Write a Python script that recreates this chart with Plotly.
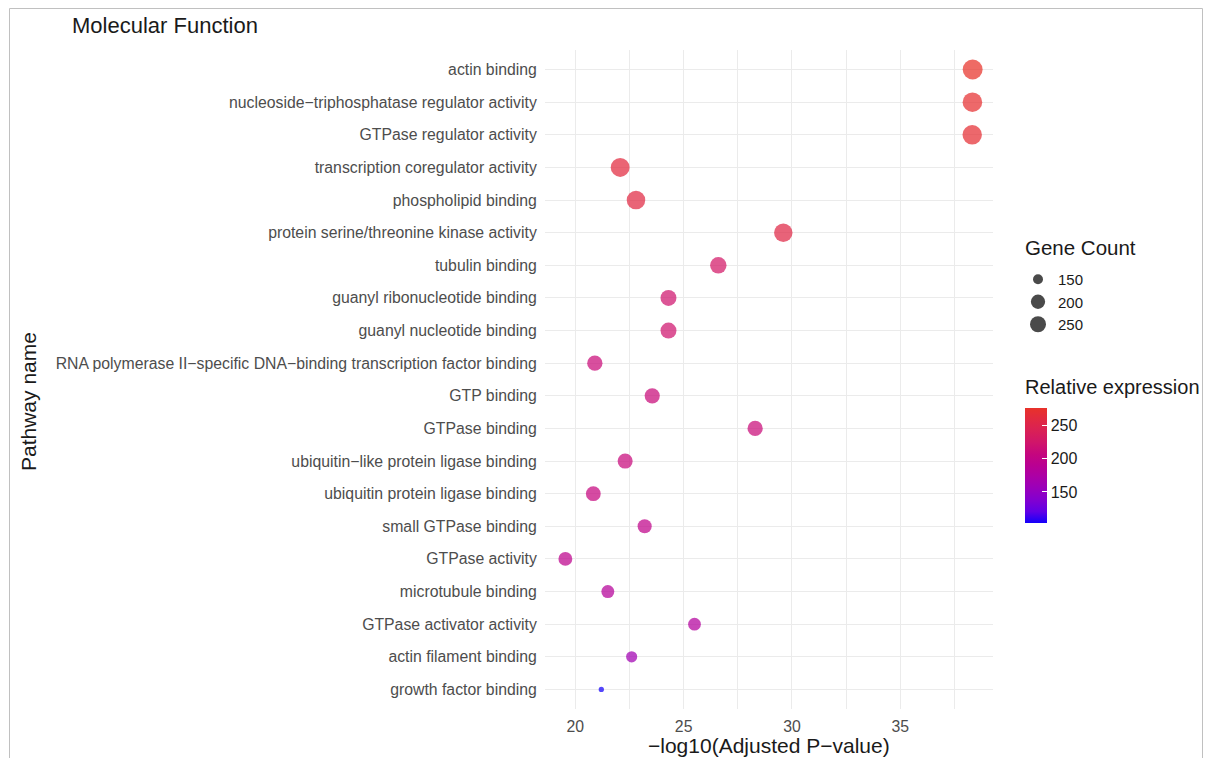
import plotly.graph_objects as go
import math

pathways = [
    "actin binding",
    "nucleoside\u2212triphosphatase regulator activity",
    "GTPase regulator activity",
    "transcription coregulator activity",
    "phospholipid binding",
    "protein serine/threonine kinase activity",
    "tubulin binding",
    "guanyl ribonucleotide binding",
    "guanyl nucleotide binding",
    "RNA polymerase II\u2212specific DNA\u2212binding transcription factor binding",
    "GTP binding",
    "GTPase binding",
    "ubiquitin\u2212like protein ligase binding",
    "ubiquitin protein ligase binding",
    "small GTPase binding",
    "GTPase activity",
    "microtubule binding",
    "GTPase activator activity",
    "actin filament binding",
    "growth factor binding",
]
neg_log10_padj = [38.34, 38.33, 38.32, 22.07, 22.8, 29.6, 26.6, 24.3, 24.3, 20.9,
                  23.55, 28.3, 22.3, 20.83, 23.2, 19.54, 21.5, 25.5, 22.6, 21.2]
gene_count = [277, 272, 270, 262, 258, 256, 228, 222, 222, 213,
              212, 213, 210, 207, 198, 195, 184, 182, 163, 103]
legend_counts = [150, 200, 250]
color_ticks = [150, 200, 250]

cmin, cmax = min(gene_count), max(gene_count)

# ggplot-like size mapping (area scale): diameter linear in sqrt(count)
def diam(v):
    return 10 + 2.25 * (math.sqrt(v) - math.sqrt(150))

# Lab interpolation blue -> red (like scales::seq_gradient_pal)
def srgb_to_lin(c):
    c = c / 255
    return c / 12.92 if c <= 0.04045 else ((c + 0.055) / 1.055) ** 2.4
def lin_to_srgb(c):
    c = max(0, min(1, c))
    v = 12.92 * c if c <= 0.0031308 else 1.055 * c ** (1 / 2.4) - 0.055
    return round(max(0, min(1, v)) * 255)
def rgb_to_lab(rgb):
    r, g, b = [srgb_to_lin(c) for c in rgb]
    X = (0.4124 * r + 0.3576 * g + 0.1805 * b) / 0.95047
    Y = (0.2126 * r + 0.7152 * g + 0.0722 * b)
    Z = (0.0193 * r + 0.1192 * g + 0.9505 * b) / 1.08883
    f = lambda t: t ** (1 / 3) if t > 0.008856 else 7.787 * t + 16 / 116
    fx, fy, fz = f(X), f(Y), f(Z)
    return (116 * fy - 16, 500 * (fx - fy), 200 * (fy - fz))
def lab_to_rgb(lab):
    L, a, b = lab
    fy = (L + 16) / 116
    fx = fy + a / 500
    fz = fy - b / 200
    finv = lambda t: t ** 3 if t ** 3 > 0.008856 else (t - 16 / 116) / 7.787
    X, Y, Z = finv(fx) * 0.95047, finv(fy), finv(fz) * 1.08883
    r = 3.2406 * X - 1.5372 * Y - 0.4986 * Z
    g = -0.9689 * X + 1.8758 * Y + 0.0415 * Z
    bb = 0.0557 * X - 0.2040 * Y + 1.0570 * Z
    return (lin_to_srgb(r), lin_to_srgb(g), lin_to_srgb(bb))

low = rgb_to_lab((20, 0, 250))
high = rgb_to_lab((232, 50, 42))
colorscale = []
for i in range(11):
    t = i / 10
    lab = tuple(low[k] + (high[k] - low[k]) * t for k in range(3))
    r, g, b = lab_to_rgb(lab)
    colorscale.append([t, f"rgb({r},{g},{b})"])

# page offset: the figure sits 8px in from the window corner
OFF = 8
W, H = 1211 - 2 * OFF, 758 - OFF
PLOT_L, PLOT_R, PLOT_T, PLOT_B = 545 - OFF, 993 - OFF, 50 - OFF, 709 - OFF
pw, ph = PLOT_R - PLOT_L, PLOT_B - PLOT_T
def px_x(p):
    return (p - OFF - PLOT_L) / pw
def px_y(p):
    return (PLOT_B - (p - OFF)) / ph

fig = go.Figure()

fig.add_trace(go.Scatter(
    x=neg_log10_padj, y=pathways, mode="markers",
    marker=dict(
        size=[diam(v) for v in gene_count], sizemode="diameter",
        color=gene_count, colorscale=colorscale, cmin=cmin, cmax=cmax,
        opacity=0.72, line=dict(width=0),
        colorbar=dict(
            tickvals=color_ticks, ticks="inside", ticklen=5, tickcolor="white",
            tickfont=dict(size=16, color="#1a1a1a"),
            thickness=22, thicknessmode="pixels",
            len=115, lenmode="pixels",
            x=px_x(1025), xanchor="left", xpad=0,
            y=px_y(408), yanchor="top", ypad=0,
            outlinewidth=0,
        ),
    ),
    showlegend=False, hoverinfo="x+y",
))

for v in legend_counts:
    fig.add_trace(go.Scatter(
        x=[None], y=[None], mode="markers", name=str(v),
        marker=dict(size=diam(v), color="#4a4a4a", line=dict(width=0)),
        showlegend=True,
    ))

fig.update_layout(
    width=W, height=H,
    margin=dict(l=PLOT_L, r=W - PLOT_R, t=PLOT_T, b=H - PLOT_B, autoexpand=False),
    paper_bgcolor="white", plot_bgcolor="white",
    font=dict(family="Liberation Sans, Arial, sans-serif", color="#1a1a1a"),
    title=dict(text="Molecular Function", x=(72 - OFF) / W, xanchor="left",
               y=1 - (25 - OFF) / H, yanchor="middle", font=dict(size=22, color="#1a1a1a")),
    xaxis=dict(
        range=[18.6, 39.28], tickvals=[20, 25, 30, 35],
        showgrid=True, gridcolor="#EBEBEB", gridwidth=1.3,
        minor=dict(tickvals=[22.5, 27.5, 32.5, 37.5], showgrid=True,
                   gridcolor="#EBEBEB", gridwidth=0.7, ticks=""),
        zeroline=False, showline=False, ticks="outside", ticklen=3, tickcolor="white",
        tickfont=dict(size=15.8, color="#4d4d4d"),
    ),
    yaxis=dict(
        categoryorder="array", categoryarray=pathways[::-1],
        range=[-0.6, 19.6],
        showgrid=True, gridcolor="#EBEBEB", gridwidth=1.3,
        zeroline=False, showline=False, ticks="outside", ticklen=4, tickcolor="white",
        tickfont=dict(size=15.8, color="#4d4d4d"),
    ),
    legend=dict(
        x=px_x(1018), xanchor="left", y=px_y(263), yanchor="top",
        font=dict(size=15, color="#1a1a1a"), itemsizing="trace",
        tracegroupgap=0, bgcolor="rgba(0,0,0,0)",
    ),
    annotations=[
        dict(text="Pathway name", xref="paper", yref="paper",
             x=px_x(28), y=px_y(402), xanchor="center", yanchor="middle",
             textangle=-90, showarrow=False, font=dict(size=21, color="#1a1a1a")),
        dict(text="\u2212log10(Adjusted P\u2212value)", xref="paper", yref="paper",
             x=px_x(769), y=px_y(745), xanchor="center", yanchor="middle",
             showarrow=False, font=dict(size=21, color="#1a1a1a")),
        dict(text="Gene Count", xref="paper", yref="paper",
             x=px_x(1023), y=px_y(247), xanchor="left", yanchor="middle",
             showarrow=False, font=dict(size=20.5, color="#1a1a1a")),
        dict(text="Relative expression", xref="paper", yref="paper",
             x=px_x(1023), y=px_y(387), xanchor="left", yanchor="middle",
             showarrow=False, font=dict(size=20, color="#1a1a1a")),
    ],
    shapes=[dict(type="rect", xref="paper", yref="paper",
                 x0=px_x(9.5), x1=px_x(1202.5), y0=px_y(780), y1=px_y(8.5),
                 line=dict(color="#c0c0c0", width=1), fillcolor="rgba(0,0,0,0)", layer="below")],
)

fig.write_html("out.html")
